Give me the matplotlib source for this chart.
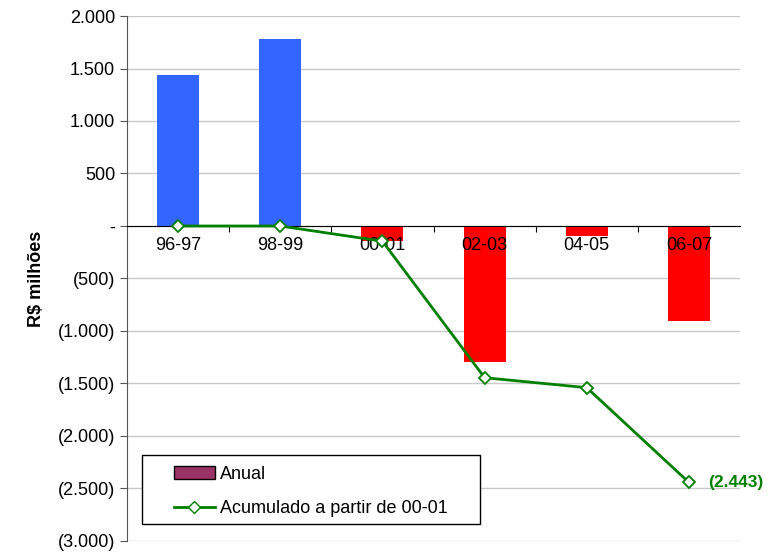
import matplotlib
matplotlib.use("Agg")
import matplotlib.pyplot as plt
from matplotlib.lines import Line2D
from matplotlib.patches import Patch, Rectangle
import numpy as np

plt.rcParams['font.family'] = ['Liberation Sans', 'DejaVu Sans']

# data
periods = ["96-97", "98-99", "00-01", "02-03", "04-05", "06-07"]
anual = [1440, 1780, -145, -1300, -95, -903]
acumulado = [0, 0, -145, -1445, -1540, -2443]
yticks = [2000, 1500, 1000, 500, 0, -500, -1000, -1500, -2000, -2500, -3000]
ytick_labels = ["2.000", "1.500", "1.000", "500", "-", "(500)", "(1.000)",
                "(1.500)", "(2.000)", "(2.500)", "(3.000)"]

W, H = 779, 552
fig = plt.figure(figsize=(W / 100, H / 100), dpi=100)
ax = fig.add_axes([0.163, 0.020, 0.787, 0.951])

x = np.arange(len(periods))
colors = ["#3366FF" if v >= 0 else "#FF0000" for v in anual]
ax.bar(x, anual, width=0.41, color=colors, zorder=2)
ax.plot(x, acumulado, color="#008000", lw=2, marker="D", markersize=6.5,
        markerfacecolor="white", markeredgecolor="#008000", markeredgewidth=1.3,
        zorder=4)

ax.set_xlim(-0.5, len(periods) - 0.5)
ax.set_ylim(-3000, 2000)
ax.set_yticks(yticks)
ax.set_yticklabels(ytick_labels, fontsize=13)
ax.yaxis.grid(True, color="#C8C8C8", lw=1, zorder=0)
ax.set_axisbelow(True)

for s in ["top", "right"]:
    ax.spines[s].set_visible(False)
ax.spines["bottom"].set_position(("data", 0))
ax.spines["bottom"].set_zorder(3.5)
ax.spines["left"].set_color("#555555")

# category labels drawn as text so they sit above the bars
ax.set_xticks(np.arange(0.5, len(periods) - 0.5, 1))
ax.set_xticklabels([])
ax.tick_params(axis="x", length=4, direction="out")
for i, p in enumerate(periods):
    ax.annotate(p, xy=(i, 0), xytext=(0, -8), textcoords="offset points",
                ha="center", va="top", fontsize=13, zorder=3)
ax.tick_params(axis="y", length=5, direction="out", color="#555555")

ax.set_ylabel("R$ milhões", fontsize=13, fontweight="bold", labelpad=9)

ax.annotate("(2.443)", xy=(x[-1], acumulado[-1]), xytext=(14, 0),
            textcoords="offset points", va="center", ha="left",
            fontsize=12.5, fontweight="bold", color="#008000")

# legend: frame drawn separately so the inner padding matches
fig.patches.append(Rectangle((142 / W, 1 - 524 / H), 338 / W, 69 / H,
                             transform=fig.transFigure, facecolor="white",
                             edgecolor="black", lw=1, zorder=5))
handles = [
    Patch(facecolor="#993366", edgecolor="black", label="Anual"),
    Line2D([0], [0], color="#008000", lw=2, marker="D", markersize=6,
           markerfacecolor="white", markeredgecolor="#008000", label="Acumulado a partir de 00-01"),
]
leg = fig.legend(handles=handles, loc="upper left",
                 bbox_to_anchor=(174 / W, 1 - 466 / H), fontsize=13,
                 frameon=False, borderpad=0, borderaxespad=0,
                 labelspacing=0.95, handlelength=2.27, handletextpad=0.3)
leg.set_zorder(6)

fig.savefig("out.png", dpi=100)
